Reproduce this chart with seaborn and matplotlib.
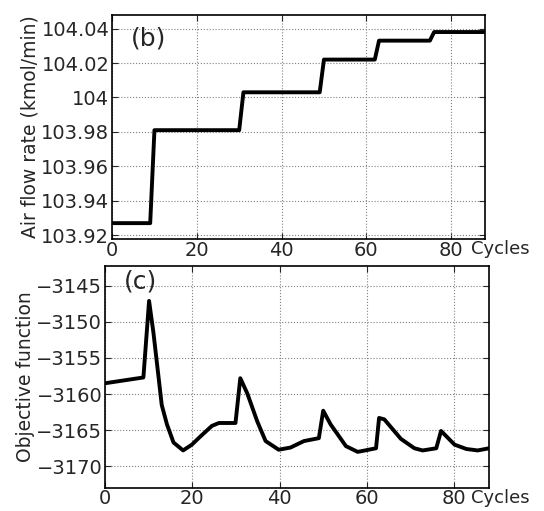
import numpy as np
import pandas as pd
import matplotlib
matplotlib.use("Agg")
import matplotlib.pyplot as plt
import seaborn as sns

# (b) air flow rate, step profile
air_cycles = [0, 9, 10, 30, 31, 49, 50, 62, 63, 75, 76, 88]
air_flow = [103.927, 103.927, 103.981, 103.981, 104.003, 104.003,
            104.022, 104.022, 104.033, 104.033, 104.038, 104.038]

# (c) objective function
obj_cycles = [0, 8.8, 10.1, 11.1, 12.3, 13.0, 14.2, 15.7, 17.9, 19.9, 21.8,
              24.5, 26.1, 29.9, 31.0, 32.6, 34.9, 36.8, 39.8, 42.5, 45.6,
              49.0, 50.0, 51.7, 55.2, 57.9, 62.1, 62.8, 64.0, 67.8, 70.9,
              72.8, 75.9, 77.0, 80.1, 82.8, 85.4, 88]
obj_value = [-3158.5, -3157.7, -3147.1, -3151.5, -3157.8, -3161.5, -3164.2,
             -3166.7, -3167.8, -3167.0, -3165.9, -3164.4, -3164.0, -3164.0,
             -3157.8, -3159.9, -3163.8, -3166.5, -3167.7, -3167.4, -3166.5,
             -3166.1, -3162.3, -3164.2, -3167.2, -3168.0, -3167.5, -3163.3,
             -3163.5, -3166.2, -3167.5, -3167.8, -3167.5, -3165.1, -3167.0,
             -3167.6, -3167.8, -3167.5]

air_ticks = [103.92, 103.94, 103.96, 103.98, 104.0, 104.02, 104.04]
air_labels = ["103.92", "103.94", "103.96", "103.98", "104", "104.02", "104.04"]
obj_ticks = [-3170, -3165, -3160, -3155, -3150, -3145]
x_ticks = [0, 20, 40, 60, 80]

sns.set_style("ticks")
plt.rcParams["font.family"] = ["DejaVu Sans"]
plt.rcParams["axes.unicode_minus"] = True

fig = plt.figure(figsize=(5.44, 5.11), dpi=100)
ax1 = fig.add_axes([0.206, 0.532, 0.6855, 0.439])
ax2 = fig.add_axes([0.193, 0.045, 0.706, 0.434])

df_air = pd.DataFrame({"cycle": air_cycles, "air": air_flow})
df_obj = pd.DataFrame({"cycle": obj_cycles, "obj": obj_value})

sns.lineplot(data=df_air, x="cycle", y="air", ax=ax1, color="black", linewidth=2.8)
sns.lineplot(data=df_obj, x="cycle", y="obj", ax=ax2, color="black", linewidth=2.8)

ax1.set_xlim(0, 88)
ax1.set_ylim(103.9177, 104.048)
ax1.set_yticks(air_ticks)
ax1.set_yticklabels(air_labels)
ax1.set_ylabel("Air flow rate (kmol/min)", fontsize=13.5, labelpad=1)
ax1.text(0.05, 0.95, "(b)", transform=ax1.transAxes, fontsize=18, va="top", ha="left")

ax2.set_xlim(0, 88)
ax2.set_ylim(-3173, -3142.3)
ax2.set_yticks(obj_ticks)
ax2.set_ylabel("Objective function", fontsize=13.5, labelpad=1)
ax2.text(0.05, 0.985, "(c)", transform=ax2.transAxes, fontsize=18, va="top", ha="left")

for ax in (ax1, ax2):
    ax.set_xticks(x_ticks)
    ax.set_xlabel("")
    ax.grid(True, linestyle=":", color="gray", linewidth=0.8)
    ax.tick_params(direction="in", length=4, labelsize=14, right=True, top=True, pad=2)
    ax.tick_params(axis="x", pad=1)
    for s in ax.spines.values():
        s.set_linewidth(1.2)
        s.set_color("black")

# "Cycles" sits just right of the last tick label
fig.text(0.866, 1 - 240 / 511, "Cycles", fontsize=13, ha="left", va="top")
fig.text(0.866, 1 - 489 / 511, "Cycles", fontsize=13, ha="left", va="top")

fig.savefig("out.png", dpi=100)
